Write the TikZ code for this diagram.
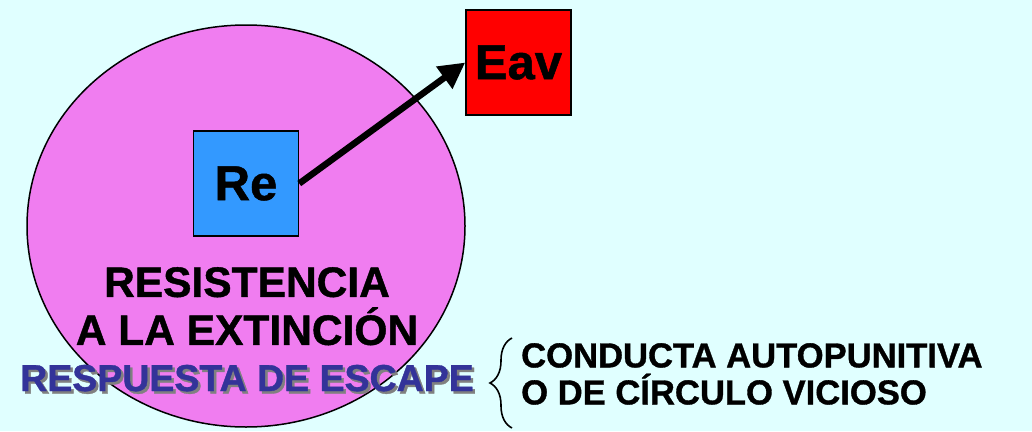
\documentclass[tikz,border=0pt]{standalone}
\usepackage{fontspec}
\setmainfont{Liberation Sans}[BoldFeatures={FakeBold=1}]
\usetikzlibrary{arrows.meta,decorations.pathreplacing}
\definecolor{bgcyan}{RGB}{224,255,255}
\definecolor{pinkfill}{RGB}{240,125,240}
\definecolor{reblue}{RGB}{51,153,255}
\definecolor{escblue}{RGB}{51,51,153}
\tikzset{
  box/.style={draw=black,line width=1.5pt,minimum size=105pt,inner sep=0pt,font=\fontsize{49}{49}\selectfont\bfseries},
  bigtext/.style={inner sep=0pt,font=\fontsize{42.5}{48}\selectfont\bfseries,align=center},
  sidetext/.style={inner sep=0pt,font=\fontsize{34.6}{37}\selectfont\bfseries,align=left},
  esctext/.style={inner sep=0pt,font=\fontsize{37.5}{37.5}\selectfont\bfseries}
}
\newcommand{\shadowed}[1]{\makebox[0pt][l]{\hspace{2.5pt}\raisebox{-2.5pt}{\textcolor{gray}{#1}}}\textcolor{escblue}{#1}}
\begin{document}
\begin{tikzpicture}[x=1pt,y=-1pt]
        \fill[bgcyan] (0,0) rectangle (1032,431);
        \useasboundingbox (0,0) rectangle (1032,431);

        \draw[fill=pinkfill,line width=1.5pt] (246,226) ellipse [x radius=219pt,y radius=201pt];

        \node[box,fill=reblue] (re) at (246,183.5) {Re};
        \node[box,fill=red] (eav) at (518.5,62.5) {Eav};
        \draw[line width=6.5pt,-{Triangle[length=26pt,width=26pt]}] (re.east) -- (eav.west);

        \node[bigtext,anchor=north] (resist) at (247,267) {RESISTENCIA\\A LA EXTINCIÓN};

        \node[esctext,anchor=base west] (escape) at (20,391) {\shadowed{RESPUESTA DE ESCAPE}};

        \coordinate (brbot) at (512,428);
        \coordinate (brtop) at (512,338);
        \draw[line width=1.6pt,decorate,decoration={brace,amplitude=22pt}] (brbot) -- (brtop);
        \node[sidetext,anchor=north west] (conducta) at (521,343) {CONDUCTA AUTOPUNITIVA\\O DE CÍRCULO VICIOSO};
    \end{tikzpicture}
\end{document}
